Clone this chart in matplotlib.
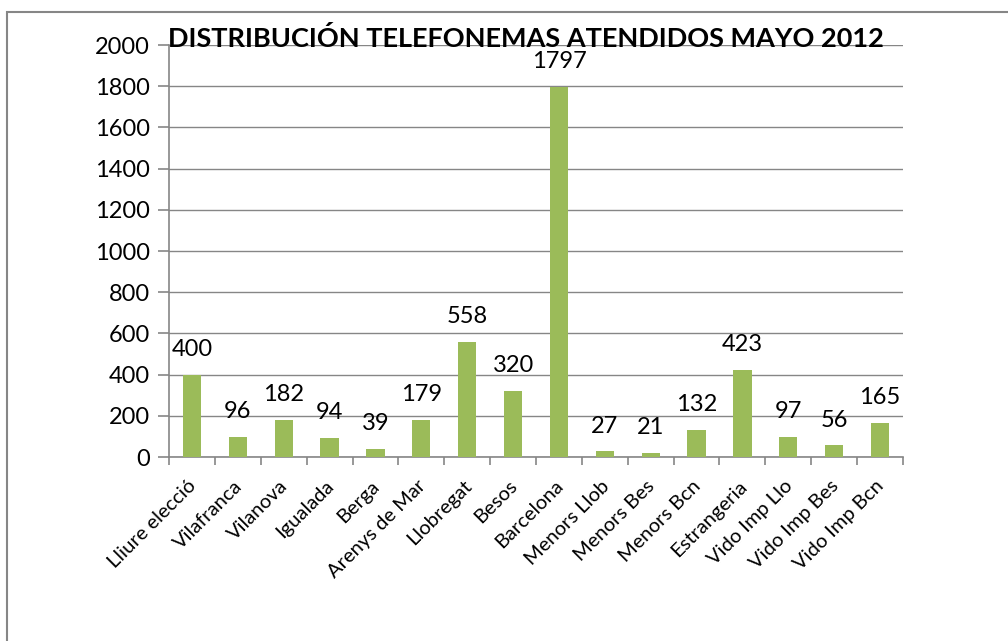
import numpy as np
import matplotlib.pyplot as plt
from matplotlib.patches import Rectangle

categories = ["Lliure elecció", "Vilafranca", "Vilanova", "Igualada", "Berga",
              "Arenys de Mar", "Llobregat", "Besos", "Barcelona", "Menors Llob",
              "Menors Bes", "Menors Bcn", "Estrangeria", "Vido Imp Llo",
              "Vido Imp Bes", "Vido Imp Bcn"]
values = [400, 96, 182, 94, 39, 179, 558, 320, 1797, 27, 21, 132, 423, 97, 56, 165]
y_ticks = list(range(0, 2001, 200))
title = "DISTRIBUCIÓN TELEFONEMAS ATENDIDOS MAYO 2012"

plt.rcParams['font.family'] = ['Lato', 'DejaVu Sans']
grey = "#868686"
green = "#9BBB59"

fig = plt.figure(figsize=(10.08, 6.41), dpi=100)
ax = fig.add_axes([169 / 1008, 1 - 457 / 641, 734 / 1008, 412 / 641])

# Chart area frame (cut off at the right and bottom like the source)
fig.patches.append(Rectangle((7 / 1008, -0.1), 1.1, 1 - 12 / 641 + 0.1,
                             transform=fig.transFigure, fill=False,
                             edgecolor=grey, linewidth=1.5, clip_on=False))

x = np.arange(len(categories))
bars = ax.bar(x, values, width=0.4, color=green, zorder=3)

for xi, v in zip(x, values):
    ax.annotate(str(v), (xi, v), xytext=(0, 13.5), textcoords="offset points",
                ha="center", va="baseline", fontsize=17)

ax.set_xlim(-0.5, len(categories) - 0.5)
ax.set_ylim(0, 2000)
ax.set_yticks(y_ticks)
ax.set_yticklabels([str(t) for t in y_ticks], fontsize=17)
ax.grid(axis="y", color=grey, linewidth=1, zorder=0)

# category boundary ticks on the x axis
ax.set_xticks(np.arange(-0.5, len(categories)), minor=False)
ax.set_xticklabels([])
ax.tick_params(axis="x", length=6, color=grey, width=1.2)
ax.tick_params(axis="y", length=8, color=grey, width=1.2, pad=6)

for xi, name in zip(x, categories):
    ax.annotate(name, (xi, 0), xytext=(1, -19), textcoords="offset points",
                ha="right", va="center", rotation=45, rotation_mode="anchor",
                fontsize=14.5)

for side in ["top", "right"]:
    ax.spines[side].set_visible(False)
for side in ["left", "bottom"]:
    ax.spines[side].set_color(grey)
    ax.spines[side].set_linewidth(1.2)

fig.text(526 / 1008, 1 - 47 / 641, title, ha="center", va="baseline",
         fontsize=19.5, fontweight="bold")

fig.savefig("out.png", dpi=100)
